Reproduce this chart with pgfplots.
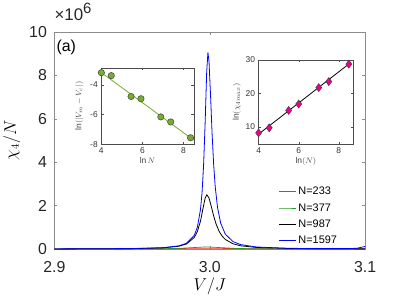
\documentclass[border=0pt]{standalone}
\usepackage{pgfplots}
\pgfplotsset{compat=1.18}
\usepackage{fontspec}
\setmainfont{Liberation Sans}
\definecolor{mgray}{rgb}{0.55,0.55,0.55}
\definecolor{igray}{rgb}{0.3,0.3,0.3}
\definecolor{lgreen}{rgb}{0.466,0.674,0.188}
\definecolor{dgreen}{rgb}{0.15,0.6,0.15}
\definecolor{lred}{rgb}{1,0.15,0.15}
\begin{document}
\begin{tikzpicture}
\path (-53bp,-58bp) rectangle (362bp,250bp);
\begin{axis}[
  at={(0,0)}, anchor=south west,
  scale only axis, width=312bp, height=218bp,
  xmin=2.9, xmax=3.1, ymin=0, ymax=10,
  xtick={2.9,3.0,3.1}, xticklabels={2.9,3.0,3.1},
  ytick={0,2,4,6,8,10},
  axis line style={mgray},
  tick style={mgray, thin},
  major tick length=3bp,
  tick align=inside,
  /pgf/number format/assume math mode=true,
  tick label style={font=\fontsize{16}{16}\selectfont, text=black!85},
  xticklabel style={yshift=-9bp},
  yticklabel style={xshift=-4bp},
  xlabel={$V/J$}, ylabel={$\chi_4/N$},
  label style={font=\fontsize{16}{16}\selectfont},
  xlabel style={yshift=2bp},
  ylabel style={yshift=2bp},
  legend style={at={(0.718,0.30)}, anchor=north west, draw=none, fill=none,
    font=\fontsize{11}{11}\selectfont, row sep=3.3bp, inner sep=1bp},
  legend cell align=left,
]
\addplot[lred, line width=0.7pt] coordinates {
(2.9,0.0016)(2.95,0.0061)(2.97,0.0142)(2.985,0.0294)(2.997,0.04)(3.01,0.0281)(3.025,0.0135)(3.05,0.005)(3.1,0.0015)};
\addlegendentry{N=233}
\addplot[dgreen, line width=0.7pt] coordinates {
(2.9,0.0015)(2.95,0.0059)(2.97,0.0155)(2.98,0.0308)(2.99,0.069)(2.998,0.1)(3.006,0.069)(3.016,0.0308)(3.026,0.0155)(3.05,0.005)(3.1,0.0014)};
\addlegendentry{N=377}
\addplot[black, line width=0.8pt] coordinates {
(2.9,0.0046)(2.95,0.0189)(2.97,0.0546)(2.98,0.1277)(2.985,0.233)(2.99,0.530)(2.992,0.804)(2.994,1.280)(2.996,2.0)(2.997,2.339)(2.9981,2.5)(2.9995,2.348)(3.001,1.956)(3.0025,1.524)(3.004,1.162)(3.006,0.816)(3.008,0.590)(3.01,0.440)(3.015,0.2395)(3.02,0.148)(3.03,0.0722)(3.05,0.0278)(3.07,0.0145)(3.09,0.0089)(3.1,0.0081)};
\addlegendentry{N=987}
\addplot[blue, line width=0.8pt] coordinates {
(2.9,0.0053)(2.95,0.0219)(2.97,0.0624)(2.98,0.145)(2.985,0.265)(2.99,0.627)(2.992,1.002)(2.994,1.81)(2.995,2.58)(2.996,3.833)(2.997,5.792)(2.998,8.145)(2.9988,9.05)(2.9995,8.637)(3.0005,7.058)(3.0015,5.286)(3.0025,3.873)(3.0035,2.867)(3.005,1.904)(3.007,1.196)(3.01,0.683)(3.015,0.340)(3.02,0.2016)(3.03,0.0942)(3.05,0.0352)(3.07,0.0182)(3.09,0.02)(3.095,0.04)(3.1,0.12)};
\addlegendentry{N=1597}
\end{axis}
\node[anchor=north west, font=\fontsize{16}{16}\selectfont, inner sep=0pt] at (2bp,210bp) {(a)};
\node[anchor=base west, font=\fontsize{17}{17}\selectfont, inner sep=0pt, text=black!85] at (0bp,229bp) {×10\raisebox{0.42em}{\fontsize{15}{15}\selectfont 6}};
% inset 1
\begin{axis}[
  at={(47bp,105bp)}, anchor=south west,
  scale only axis, width=93bp, height=77bp,
  xmin=4, xmax=8.5, ymin=-8, ymax=-2.85,
  xtick={4,6,8}, ytick={-8,-6,-4},
  axis background/.style={fill=white},
  axis line style={igray}, tick style={igray, thin},
  major tick length=2.5bp, tick align=inside,
  /pgf/number format/assume math mode=true,
  tick label style={font=\fontsize{8.5}{8.5}\selectfont, text=black!80},
  xlabel={$\ln N$}, ylabel={$\ln(|V_m-V_c|)$},
  label style={font=\fontsize{8.5}{8.5}\selectfont, text=black!75},
  xlabel style={yshift=3bp}, ylabel style={yshift=0bp},
]
\addplot[lgreen, line width=0.8pt] coordinates {(4,-3.17)(8.5,-7.72)};
\addplot[only marks, mark=*, mark size=3.2bp, mark options={fill=lgreen, draw=black!75, line width=0.5pt}] coordinates {
(4.007,-3.18)(4.489,-3.38)(5.451,-4.78)(5.932,-4.93)(6.895,-6.15)(7.376,-6.49)(8.338,-7.55)};
\end{axis}
% inset 2
\begin{axis}[
  at={(205bp,105bp)}, anchor=south west,
  scale only axis, width=95bp, height=85bp,
  xmin=4, xmax=8.72, ymin=4.75, ymax=30,
  xtick={4,6,8}, ytick={10,20,30},
  axis background/.style={fill=white},
  axis line style={igray}, tick style={igray, thin},
  major tick length=2.5bp, tick align=inside,
  /pgf/number format/assume math mode=true,
  tick label style={font=\fontsize{8.5}{8.5}\selectfont, text=black!80},
  xlabel={$\ln(N)$}, ylabel={$\ln(\chi_{4max})$},
  label style={font=\fontsize{8.5}{8.5}\selectfont, text=black!75},
  xlabel style={yshift=3bp}, ylabel style={yshift=-2bp},
]
\addplot[black, line width=0.8pt] coordinates {(3.95,7.6)(8.6,29.2)};
\addplot[only marks, mark=diamond*, mark size=4bp, mark options={fill=magenta, draw=black!75, line width=0.5pt}] coordinates {
(4.0,8.2)(4.53,9.7)(5.5,14.9)(6.0,16.8)(7.0,21.7)(7.5,23.5)(8.5,28.7)};
\end{axis}
\end{tikzpicture}
\end{document}
